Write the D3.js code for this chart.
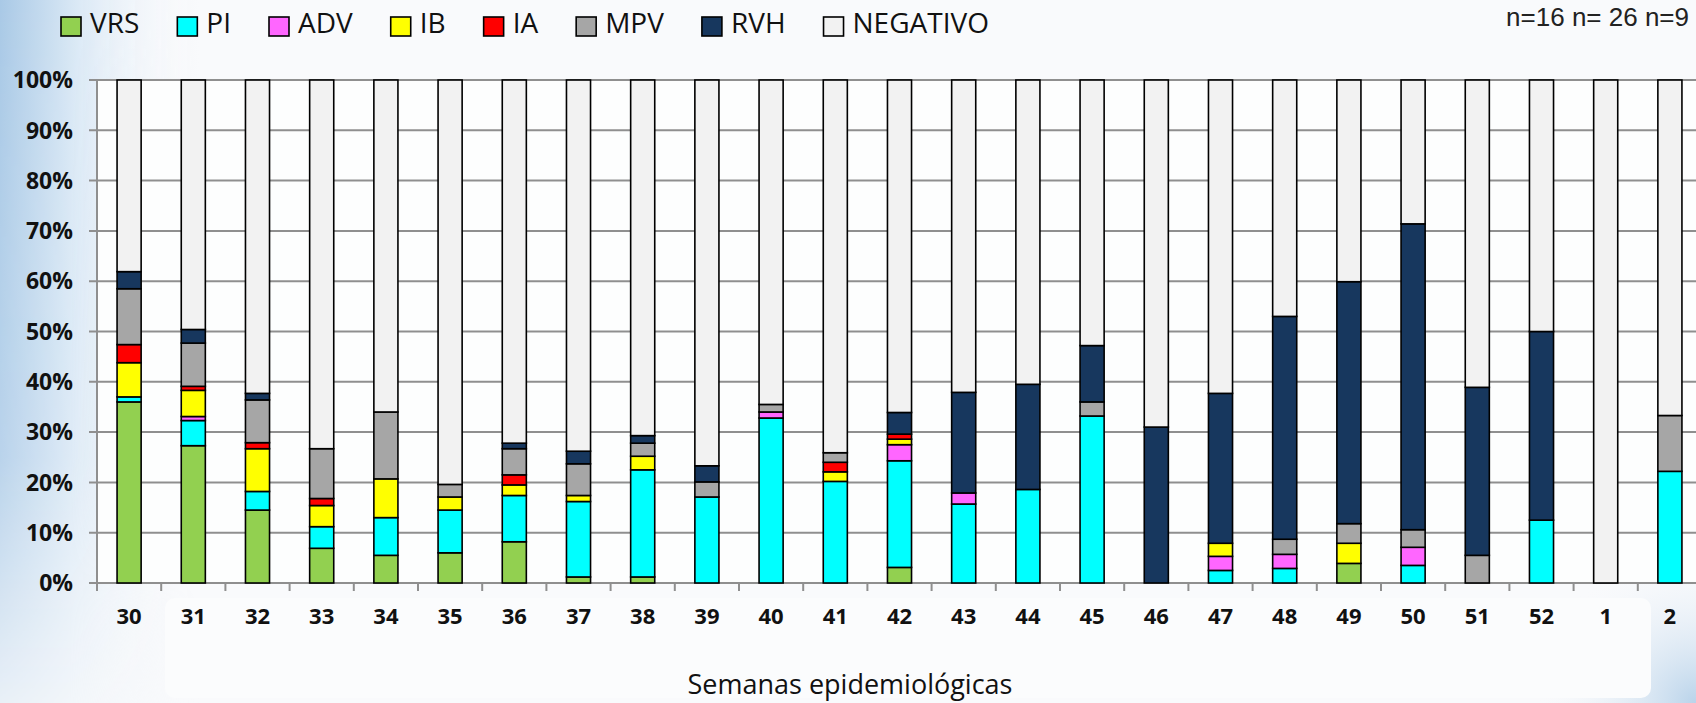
<!DOCTYPE html>
<html>
<head>
<meta charset="utf-8">
<script src="https://cdn.jsdelivr.net/npm/d3@7"></script>
<style>
  html, body { margin: 0; padding: 0; overflow: hidden; background: #f9fafc; }
</style>
</head>
<body>
<svg id="chart"></svg>
<script>
// semanas epidemiológicas (30 a 52, luego 1 y 2)
const weeks = ["30","31","32","33","34","35","36","37","38","39","40","41","42","43","44","45","46","47","48","49","50","51","52","1","2"];

const seriesNames = ["VRS","PI","ADV","IB","IA","MPV","RVH","NEGATIVO"];
const seriesColors = ["#92d050","#00ffff","#ff66ff","#ffff00","#ff0000","#a6a6a6","#17375e","#f2f2f2"];

// porcentajes por semana
const vrs      = [36.0,27.3,14.5, 6.9, 5.5, 6.0, 8.2, 1.2, 1.2, 0,    0,    0,    3.1, 0,    0,    0,    0,    0,    0,    3.9, 0,    0,    0,    0,   0];
const pi       = [ 1.0, 5.0, 3.7, 4.3, 7.5, 8.5, 9.2,15.0,21.3,17.1, 32.8, 20.2, 21.2,15.7, 18.6, 33.2, 0,    2.5,  2.9,  0,   3.5,  0,   12.5, 0,  22.2];
const adv      = [ 0,   0.8, 0,   0,   0,   0,   0,   0,   0,   0,    1.2,  0,    3.2, 2.2,  0,    0,    0,    2.8,  2.8,  0,   3.6,  0,    0,    0,   0];
const ib       = [ 6.8, 5.2, 8.5, 4.2, 7.7, 2.6, 2.1, 1.2, 2.7, 0,    0,    1.9,  1.1, 0,    0,    0,    0,    2.6,  0,    4.0, 0,    0,    0,    0,   0];
const ia       = [ 3.6, 0.8, 1.2, 1.4, 0,   0,   2.0, 0,   0,   0,    0,    1.9,  1.0, 0,    0,    0,    0,    0,    0,    0,   0,    0,    0,    0,   0];
const mpv      = [11.1, 8.6, 8.5, 9.9,13.3, 2.5, 5.2, 6.3, 2.6, 3.0,  1.5,  1.9,  0,   0,    0,    2.8,  0,    0,    3.0,  3.9, 3.5,  5.5,  0,    0,  11.1];
const rvh      = [ 3.4, 2.7, 1.3, 0,   0,   0,   1.1, 2.5, 1.5, 3.2,  0,    0,    4.3,20.0, 20.9, 11.2, 31.0, 29.8, 44.3, 48.1,60.8, 33.4, 37.5, 0,   0];
const negativo = [38.1,49.6,62.3,73.3,66.0,80.4,72.2,73.8,70.7,76.7, 64.5, 74.1, 66.1,62.1, 60.5, 52.8, 69.0, 62.3, 47.0, 40.1,28.6, 61.1, 50.0,100, 66.7];

const yTicks = [0,10,20,30,40,50,60,70,80,90,100];
const nNote = "n=16 n= 26 n=9";
const xTitle = "Semanas epidemiológicas";

const width = 1696, height = 703;
const plotLeft = 97, plotTop = 80, plotBottom = 583;

const rows = weeks.map((w, i) => ({
  week: w, VRS: vrs[i], PI: pi[i], ADV: adv[i], IB: ib[i], IA: ia[i],
  MPV: mpv[i], RVH: rvh[i], NEGATIVO: negativo[i]
}));

const svg = d3.select('#chart').attr('width', width).attr('height', height);

// fondo: degradado azulado en los bordes
const defs = svg.append('defs');
const lg = defs.append('linearGradient').attr('id', 'leftGlow').attr('x1', 0).attr('x2', 1).attr('y1', 0).attr('y2', 0);
lg.append('stop').attr('offset', '0%').attr('stop-color', '#a9c9e6');
lg.append('stop').attr('offset', '35%').attr('stop-color', '#d6e6f4');
lg.append('stop').attr('offset', '100%').attr('stop-color', '#f9fafc').attr('stop-opacity', 0);
const vfade = defs.append('linearGradient').attr('id', 'vfade').attr('x1', 0).attr('x2', 0).attr('y1', 0).attr('y2', 1);
vfade.append('stop').attr('offset', '0%').attr('stop-color', '#fff').attr('stop-opacity', 1);
vfade.append('stop').attr('offset', '65%').attr('stop-color', '#fff').attr('stop-opacity', 0.8);
vfade.append('stop').attr('offset', '100%').attr('stop-color', '#fff').attr('stop-opacity', 0.2);
const mask = defs.append('mask').attr('id', 'leftMask');
mask.append('rect').attr('width', 200).attr('height', height).attr('fill', 'url(#vfade)');
const rg = defs.append('radialGradient').attr('id', 'cornerGlow').attr('cx', 1).attr('cy', 1).attr('r', 1);
rg.append('stop').attr('offset', '0%').attr('stop-color', '#b9d3ea');
rg.append('stop').attr('offset', '100%').attr('stop-color', '#f9fafc').attr('stop-opacity', 0);

svg.append('rect').attr('width', width).attr('height', height).attr('fill', '#f9fafc');
svg.append('rect').attr('width', 200).attr('height', height).attr('fill', 'url(#leftGlow)').attr('mask', 'url(#leftMask)');
svg.append('rect').attr('x', width - 160).attr('y', height - 160).attr('width', 160).attr('height', 160).attr('fill', 'url(#cornerGlow)');
svg.append('rect').attr('x', 165).attr('y', 598).attr('width', width - 210).attr('height', 100).attr('rx', 10).attr('fill', '#fbfcfd');
svg.append('rect').attr('x', plotLeft).attr('y', plotTop).attr('width', width - plotLeft).attr('height', plotBottom - plotTop).attr('fill', '#fdfefe');

// escalas
const x = d3.scaleBand().domain(weeks).range([plotLeft, plotLeft + weeks.length * 64.2]).padding(0);
const barW = x.bandwidth() * 0.375;
const y = d3.scaleLinear().domain([0, 100]).range([plotBottom, plotTop]);

// rejilla
svg.append('g').selectAll('line').data(yTicks).join('line')
  .attr('x1', plotLeft - 8).attr('x2', width)
  .attr('y1', d => y(d)).attr('y2', d => y(d))
  .attr('stroke', '#8f8f8f').attr('stroke-width', 2);

// eje y
svg.append('line').attr('x1', plotLeft).attr('x2', plotLeft)
  .attr('y1', plotTop).attr('y2', plotBottom + 8)
  .attr('stroke', '#8f8f8f').attr('stroke-width', 2);
svg.append('g').selectAll('text').data(yTicks).join('text')
  .attr('x', plotLeft - 24).attr('y', d => y(d)).attr('dy', '0.36em')
  .attr('text-anchor', 'end')
  .style('font-family', '"Open Sans", sans-serif').style('font-weight', 700).style('font-size', '23px')
  .attr('fill', '#111')
  .text(d => d + '%');

// marcas del eje x (entre categorías)
svg.append('g').selectAll('line').data(weeks.slice(1)).join('line')
  .attr('x1', d => x(d)).attr('x2', d => x(d))
  .attr('y1', plotBottom).attr('y2', plotBottom + 8)
  .attr('stroke', '#8f8f8f').attr('stroke-width', 2);

// barras apiladas al 100%
const stacked = d3.stack().keys(seriesNames)(rows);
const color = d3.scaleOrdinal().domain(seriesNames).range(seriesColors);

svg.append('g').selectAll('g').data(stacked).join('g')
  .attr('fill', d => color(d.key))
  .selectAll('rect').data(d => d.filter(s => s[1] - s[0] > 0)).join('rect')
    .attr('x', d => x(d.data.week) + (x.bandwidth() - barW) / 2)
    .attr('width', barW)
    .attr('y', d => y(d[1]))
    .attr('height', d => y(d[0]) - y(d[1]))
    .attr('stroke', '#000').attr('stroke-width', 1.6);

// etiquetas del eje x
svg.append('g').selectAll('text').data(weeks).join('text')
  .attr('x', d => x(d) + x.bandwidth() / 2).attr('y', 616).attr('dy', '0.36em')
  .attr('text-anchor', 'middle')
  .style('font-family', '"Open Sans", sans-serif').style('font-weight', 700).style('font-size', '22px')
  .attr('fill', '#111')
  .text(d => d);

// título del eje x
svg.append('text').attr('x', 850).attr('y', 684).attr('dy', '0.36em')
  .attr('text-anchor', 'middle')
  .style('font-family', '"Open Sans", sans-serif').style('font-size', '27px')
  .attr('fill', '#111')
  .text(xTitle);

// leyenda
let lx = 61;
const legend = svg.append('g');
seriesNames.forEach((name, i) => {
  legend.append('rect').attr('x', lx).attr('y', 17).attr('width', 20).attr('height', 19)
    .attr('fill', seriesColors[i]).attr('stroke', '#000').attr('stroke-width', 1.6);
  const t = legend.append('text').attr('x', lx + 29).attr('y', 33)
    .style('font-family', '"Open Sans", sans-serif').style('font-size', '28px')
    .attr('fill', '#111').text(name);
  lx += 29 + t.node().getComputedTextLength() + 38;
});

// tamaño de muestra
svg.append('text').attr('x', 1689).attr('y', 26).attr('text-anchor', 'end')
  .style('font-family', '"Liberation Sans", Arial, sans-serif').style('font-size', '26px')
  .attr('fill', '#222')
  .text(nNote);
</script>
</body>
</html>
